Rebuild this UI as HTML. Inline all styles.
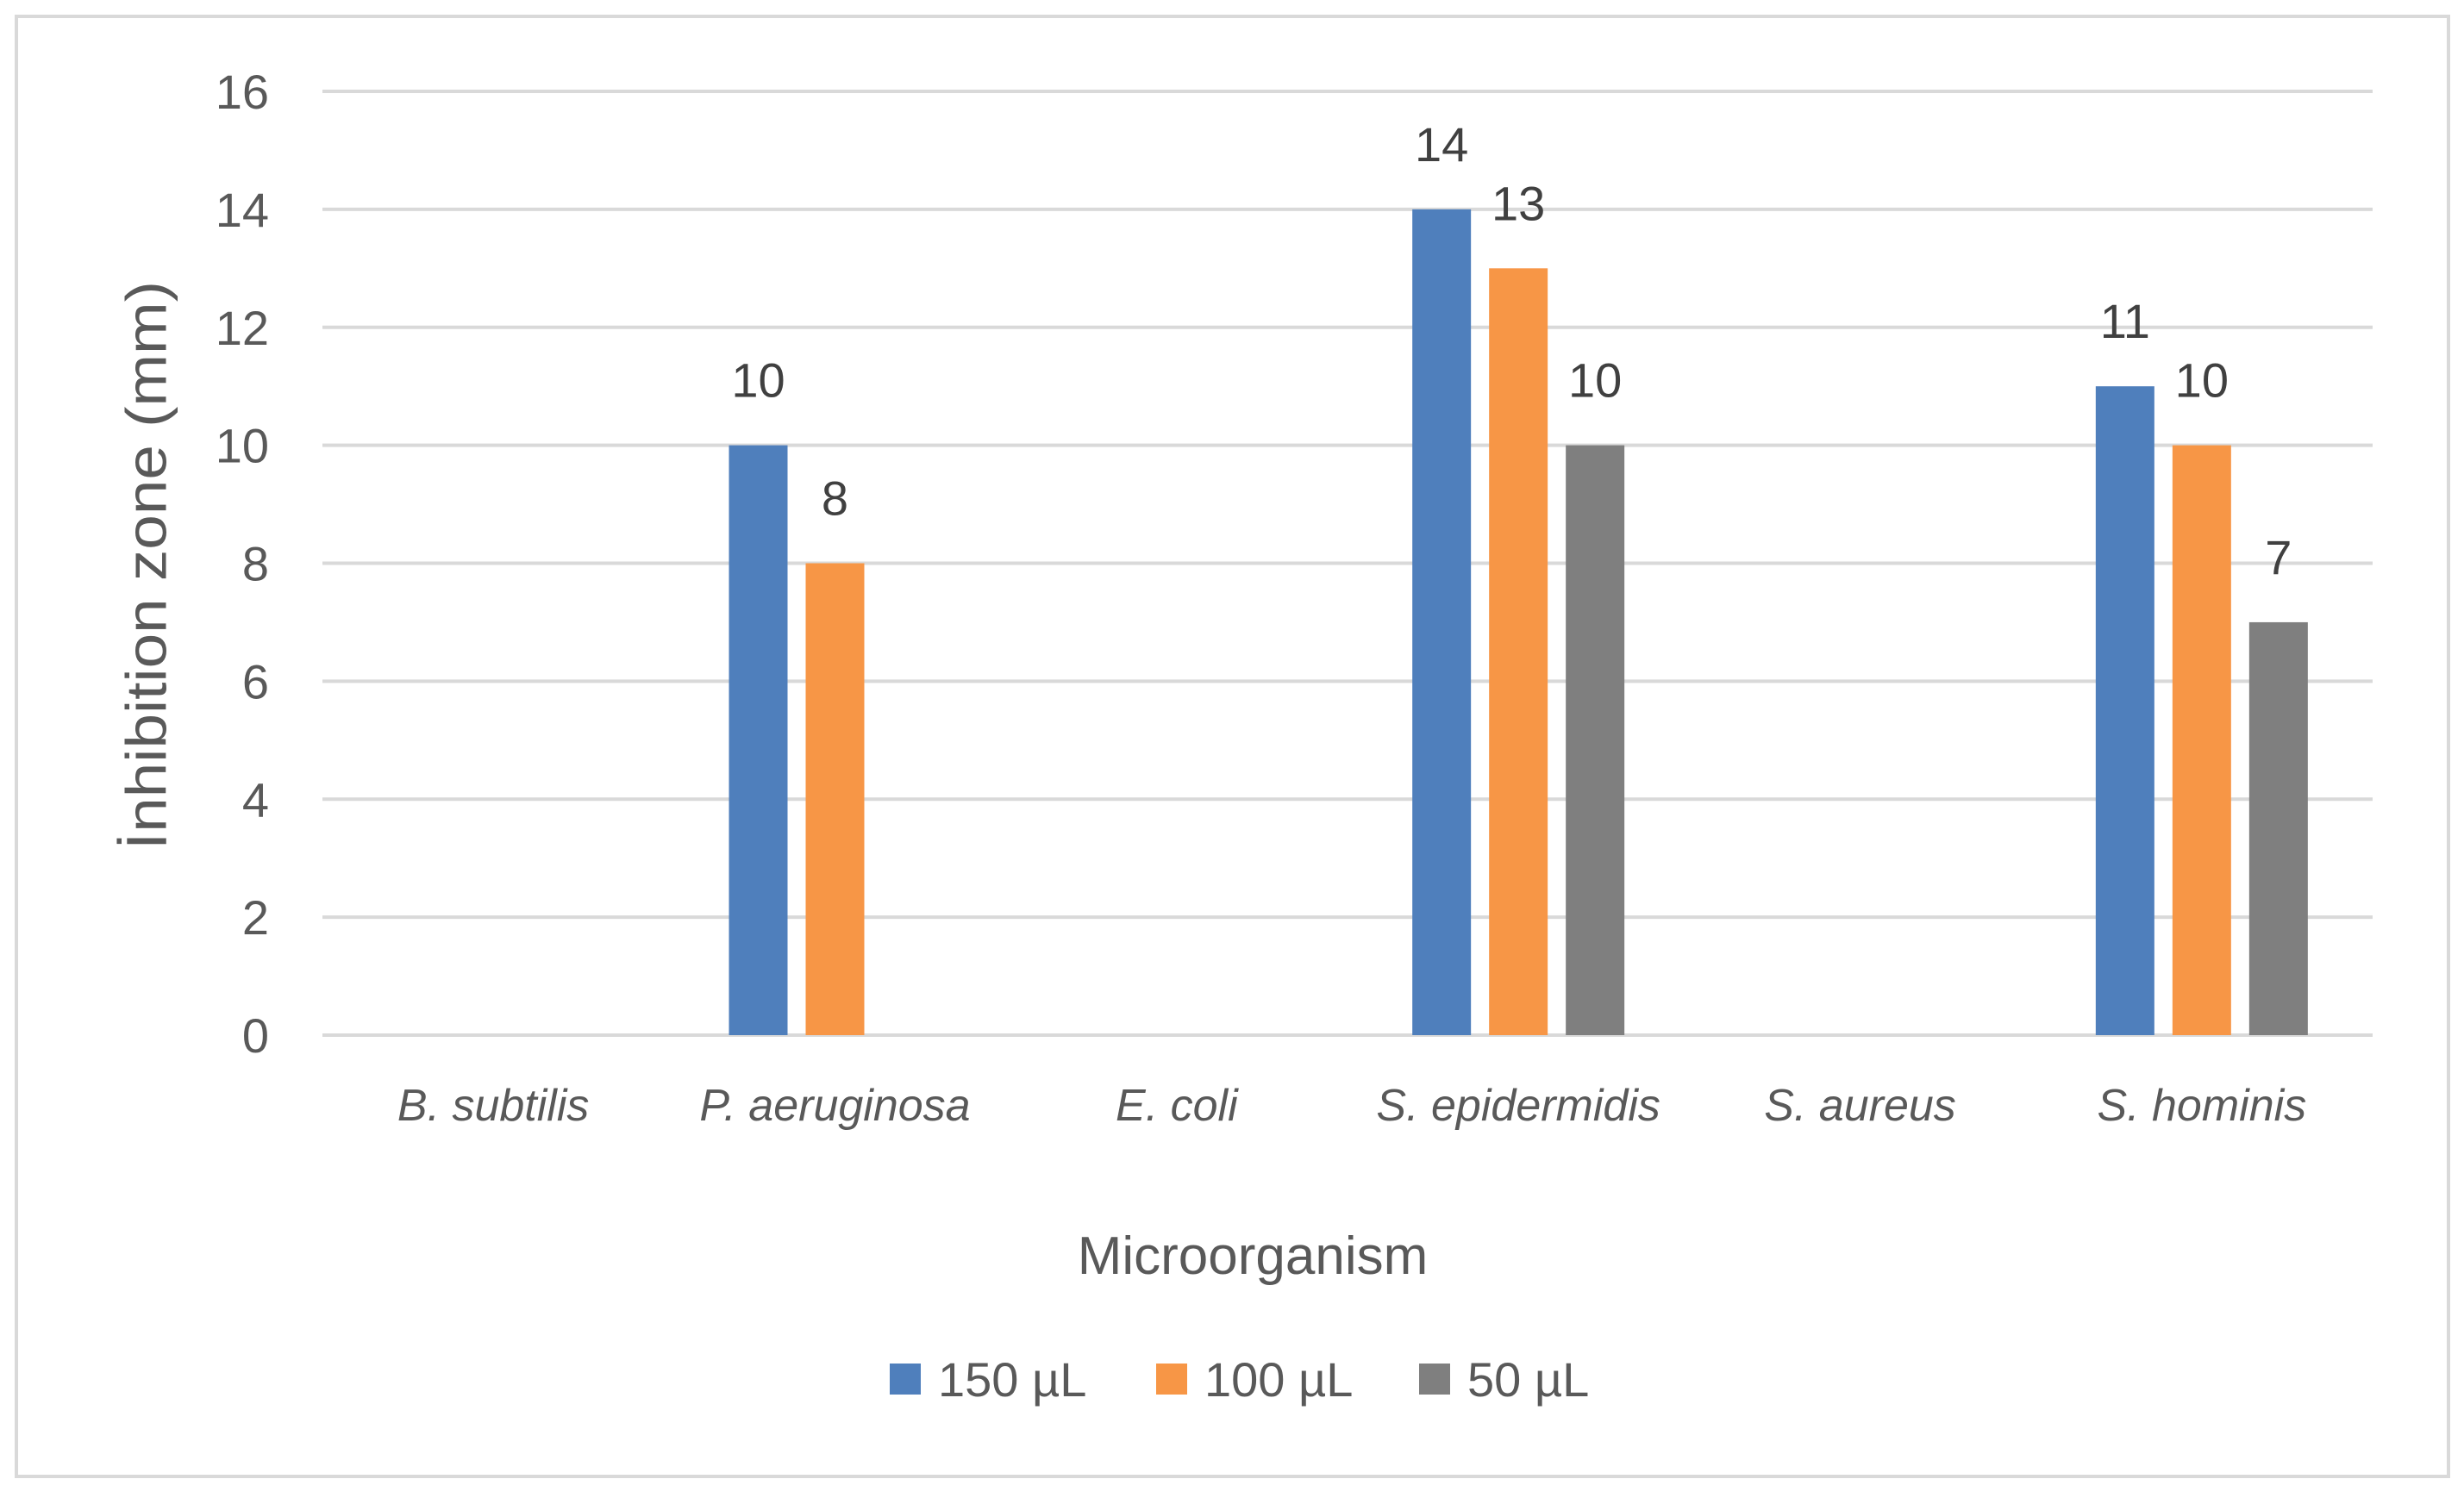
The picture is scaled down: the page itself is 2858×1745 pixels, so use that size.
<!DOCTYPE html>
<html><head><meta charset="utf-8"><style>
html,body{margin:0;padding:0;background:#fff}
svg text{font-family:"Liberation Sans",sans-serif}
</style></head><body>
<svg id="chart" width="2858" height="1740" viewBox="0 0 2858 1740" xmlns="http://www.w3.org/2000/svg">
<rect x="19" y="19" width="2821" height="1694" fill="#fff" stroke="#d9d9d9" stroke-width="4"/>
<g id="grid"></g><g id="bars"></g><g id="labels"></g>
<text x="175" y="656" transform="rotate(-90 175 656)" text-anchor="middle" dominant-baseline="middle" font-size="66" fill="#595959" textLength="660" lengthAdjust="spacingAndGlyphs">İnhibition zone (mm)</text>
<text x="1453" y="1478" text-anchor="middle" font-size="62" fill="#595959">Microorganism</text>
<g id="legend"></g>
</svg>
<script>
const categories=["B. subtilis","P. aeruginosa","E. coli","S. epidermidis","S. aureus","S. hominis"];
const series150=[null,10,null,14,null,11];
const series100=[null,8,null,13,null,10];
const series50=[null,null,null,10,null,7];
const seriesNames=["150 µL","100 µL","50 µL"];
const yTicks=[0,2,4,6,8,10,12,14,16];
const colors=["#4F7FBC","#F79646","#7F7F7F"];
const NS="http://www.w3.org/2000/svg";
const x0=374,x1=2752,yTop=106,yBot=1201,yMax=16;
const y=v=>yBot-(v/yMax)*(yBot-yTop);
const bw=(x1-x0)/categories.length;
const cx=i=>x0+bw*(i+0.5);
function mk(tag,attrs,parent,txt){const e=document.createElementNS(NS,tag);for(const k in attrs)e.setAttribute(k,attrs[k]);if(txt!=null)e.textContent=txt;parent.appendChild(e);return e;}
const grid=document.getElementById('grid'),bars=document.getElementById('bars'),labels=document.getElementById('labels'),legend=document.getElementById('legend');
yTicks.forEach(t=>{
 const l=mk('line',{x1:x0,x2:x1,y1:y(t),y2:y(t),stroke:'#d9d9d9','stroke-width':4},grid);
 
 
 const tx=mk('text',{x:312,y:y(t)+20,'text-anchor':'end','font-size':56,fill:'#595959'},grid,String(t));
 
 
});
categories.forEach((c,i)=>{
 const tx=mk('text',{x:cx(i),y:1300,'text-anchor':'middle','font-size':52,'font-style':'italic',fill:'#595959'},labels,c);
 
 
});
const all=[series150,series100,series50];
const barW=68,step=89;
all.forEach((s,si)=>{
 s.forEach((v,i)=>{
  if(v==null)return;
  const bx=cx(i)+(si-1)*step-barW/2;
  const r=mk('rect',{x:bx,y:y(v),width:barW,height:yBot-y(v),fill:colors[si]},bars);
  
  
  const t=mk('text',{x:bx+barW/2,y:y(v)-56,'text-anchor':'middle','font-size':56,fill:'#404040'},labels,String(v));
  
  
 });
});
const lx=[1032,1341,1646];
seriesNames.forEach((n,i)=>{
 const r=mk('rect',{x:lx[i],y:1582,width:36,height:36,fill:colors[i]},legend);
 
 
 const t=mk('text',{x:lx[i]+56,y:1620,'font-size':56,fill:'#595959'},legend,n);
 
 
});
</script>
</body></html>
